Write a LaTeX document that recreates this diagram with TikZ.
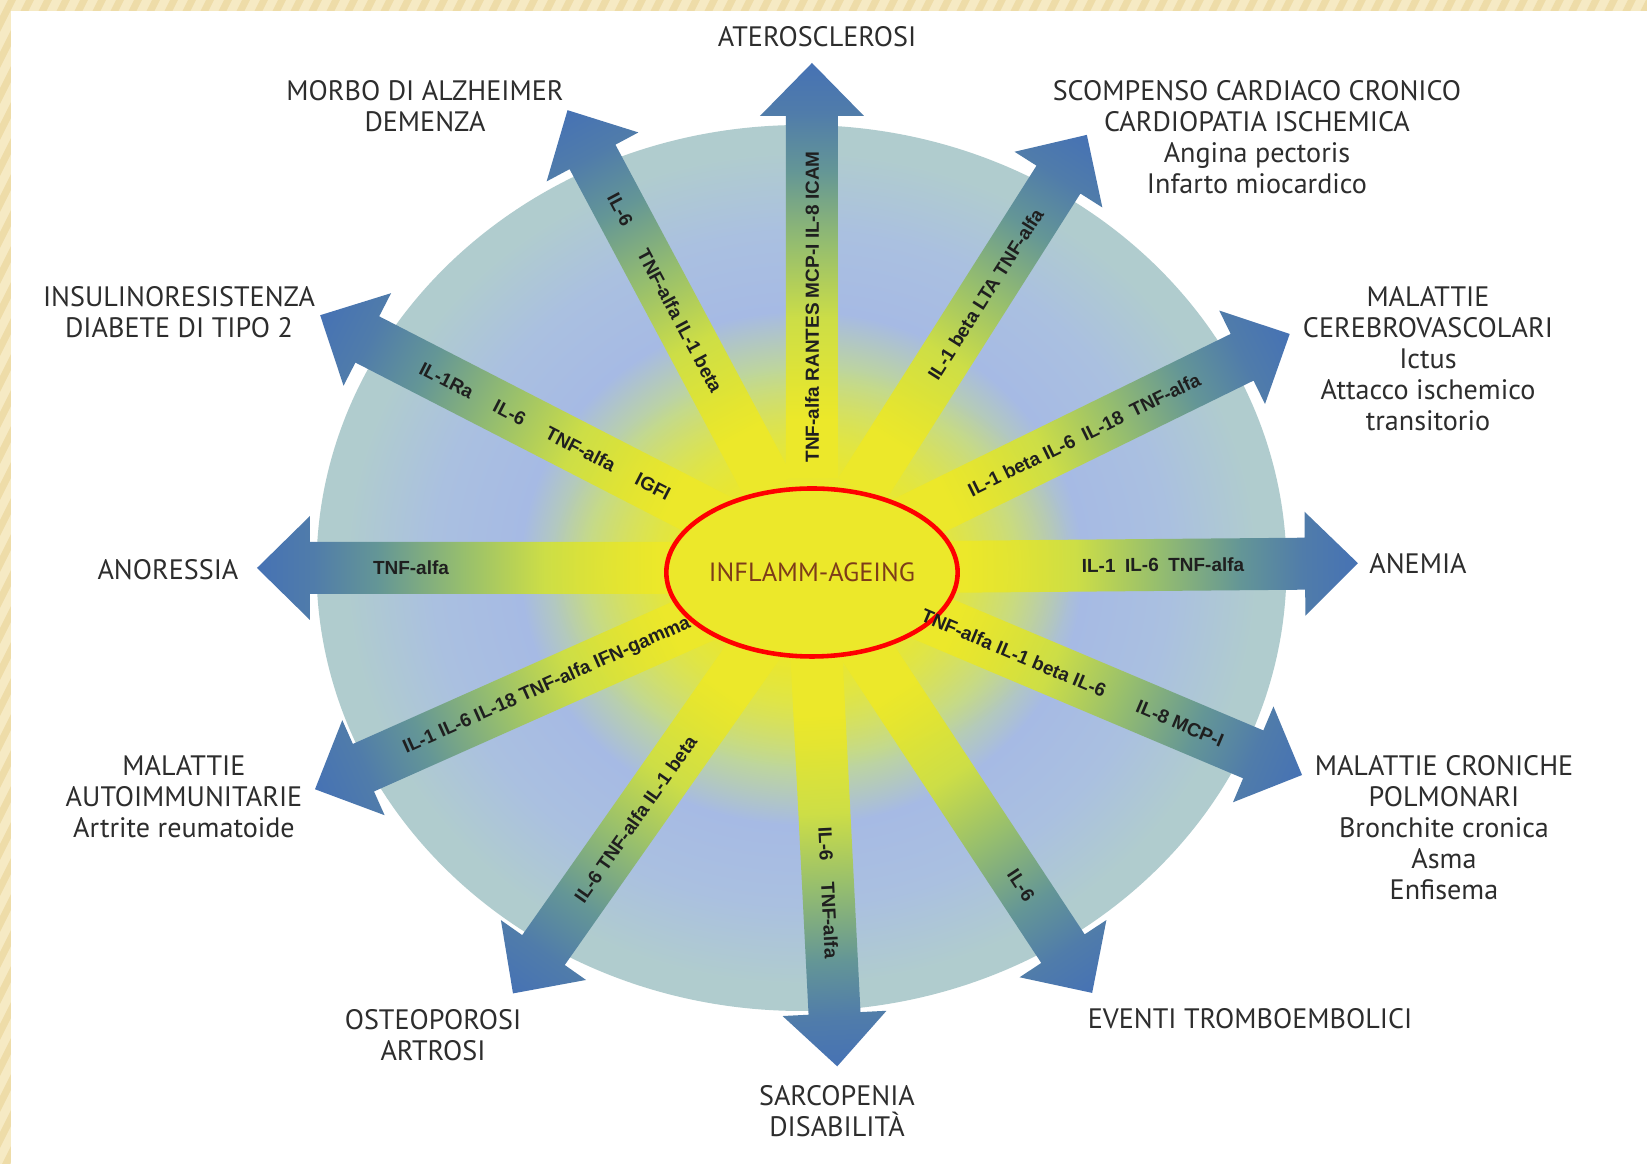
\documentclass[tikz,border=0pt]{standalone}
\usepackage{fontspec}
\setmainfont{PT Sans}
\newfontfamily\spokefont{Liberation Sans}
\usetikzlibrary{fadings,shapes.geometric}

\definecolor{coreyellow}{RGB}{236,232,42}
\definecolor{haloA}{RGB}{218,228,84}
\definecolor{haloB}{RGB}{192,216,150}
\definecolor{haloC}{RGB}{166,186,228}
\definecolor{haloD}{RGB}{170,192,224}
\definecolor{haloE}{RGB}{176,204,206}
\definecolor{spokeA}{RGB}{205,222,70}
\definecolor{spokeB}{RGB}{150,190,110}
\definecolor{spokeC}{RGB}{100,150,150}
\definecolor{spokeD}{RGB}{80,124,170}
\definecolor{spokeblue}{RGB}{70,114,180}
\definecolor{labelgray}{RGB}{45,45,45}
\definecolor{coretext}{RGB}{125,60,25}
\definecolor{frameA}{RGB}{246,234,196}
\definecolor{frameB}{RGB}{238,220,168}

\pgfdeclareradialshading{halo}{\pgfpoint{0bp}{0bp}}{color(0bp)=(coreyellow); color(4.5bp)=(coreyellow); color(7.5bp)=(haloA); color(11bp)=(haloB); color(14.5bp)=(haloC); color(19bp)=(haloD); color(23.5bp)=(haloE); color(50bp)=(haloE)}
\pgfdeclarehorizontalshading{spoke}{100bp}{color(0bp)=(coreyellow); color(25bp)=(coreyellow); color(32bp)=(coreyellow); color(44bp)=(spokeA); color(53bp)=(spokeB); color(62bp)=(spokeC); color(69bp)=(spokeD); color(75bp)=(spokeblue); color(100bp)=(spokeblue)}
\tikzfading[name=glow, inner color=transparent!0, outer color=transparent!100]

\tikzset{
  lbl/.style={align=center, text=labelgray, inner sep=0pt, font=\fontsize{8}{8.8}\selectfont},
  spoketext/.style={inner sep=0pt, text=black!88, font=\spokefont\bfseries\fontsize{5.4}{5.4}\selectfont}
}

\begin{document}
\begin{tikzpicture}
    \useasboundingbox (-8.12,-5.96) rectangle (8.35,5.68);
    \fill[white] (-8.12,-5.96) rectangle (8.35,5.68);
    % striped frame on the left and top
    \begin{scope}
      \clip (-8.12,-5.96) rectangle (-8.01,5.68) (-8.12,5.57) rectangle (8.35,5.68);
      \fill[frameA] (-8.12,-5.96) rectangle (8.35,5.68);
      \foreach \s in {-14.2,-14.02,...,2.8}
        \draw[frameB, line width=2pt] (\s,-6) -- ++(5.85,11.7);
    \end{scope}

    \shade[shading=halo] (-0.105,0) ellipse (4.85 and 4.43);

    \foreach \ang/\len in {90/5.05, 118.1/5.19, 57.6/5.13, 26.1/5.32, 0.5/5.46, -22.9/5.32,
                           -56.6/5.09, -87.1/4.99, 234.9/5.20, 204/5.44, 180/5.55, 152.8/5.53}
    {
      \begin{scope}[transform canvas={rotate=\ang}]
        \shade[shading=spoke] (0.9,-0.26) -- ({\len-0.53},-0.26) -- ({\len-0.53},-0.52) -- (\len,0)
          -- ({\len-0.53},0.52) -- ({\len-0.53},0.26) -- (0.9,0.26) -- cycle;
      \end{scope}
    }

    \fill[coreyellow, path fading=glow] (0,0) ellipse (2.6 and 2.0);

    \node[ellipse, draw=red, line width=1.3pt, fill=coreyellow, minimum width=2.88cm, minimum height=1.68cm,
          inner sep=0pt, text=coretext, font=\fontsize{7.5}{8}\selectfont] (core) at (0,-0.045) {INFLAMM-AGEING};

    \foreach \ang/\rad/\txt/\flip [count=\k] in {
        90/2.61/{TNF-alfa RANTES MCP-I IL-8 ICAM}/0,
        118.1/3.12/{IL-6\hspace{0.3cm}TNF-alfa IL-1 beta}/180,
        57.6/3.24/{IL-1 beta LTA TNF-alfa}/0,
        26.1/3.03/{IL-1 beta IL-6\enspace IL-18\enspace TNF-alfa}/0,
        0.5/3.51/{IL-1\enspace IL-6\enspace TNF-alfa}/0,
        -22.9/2.83/{TNF-alfa IL-1 beta IL-6\hspace{0.35cm}IL-8 MCP-I}/0,
        -56.6/3.80/{IL-6}/0,
        -87.1/3.25/{IL-6\hspace{0.22cm}TNF-alfa}/0,
        234.9/3.07/{IL-6 TNF-alfa IL-1 beta}/180,
        204/2.90/{IL-1 IL-6 IL-18 TNF-alfa IFN-gamma}/180,
        180/4.01/{TNF-alfa}/180,
        152.8/3.00/{IL-1Ra\hspace{0.25cm}IL-6\hspace{0.25cm}TNF-alfa\hspace{0.25cm}IGFI}/180}
      \node[spoketext, rotate=\ang+\flip] (spoke\k) at (\ang:\rad) {\txt};

    \node[lbl] (ath) at (0.05,5.31) {ATEROSCLEROSI};
    \node[lbl] (alz) at (-3.87,4.62) {MORBO DI ALZHEIMER\\DEMENZA};
    \node[lbl] (scomp) at (4.45,4.305) {SCOMPENSO CARDIACO CRONICO\\CARDIOPATIA ISCHEMICA\\Angina pectoris\\Infarto miocardico};
    \node[lbl] (insul) at (-6.33,2.555) {INSULINORESISTENZA\\DIABETE DI TIPO 2};
    \node[lbl] (cereb) at (6.16,2.09) {MALATTIE\\CEREBROVASCOLARI\\Ictus\\Attacco ischemico\\transitorio};
    \node[lbl] (anor) at (-6.44,-0.02) {ANORESSIA};
    \node[lbl] (anem) at (6.06,0.04) {ANEMIA};
    \node[lbl] (autoimm) at (-6.28,-2.29) {MALATTIE\\AUTOIMMUNITARIE\\Artrite reumatoide};
    \node[lbl] (polm) at (6.32,-2.60) {MALATTIE CRONICHE\\POLMONARI\\Bronchite cronica\\Asma\\Enfisema};
    \node[lbl] (osteo) at (-3.79,-4.67) {OSTEOPOROSI\\ARTROSI};
    \node[lbl] (trombo) at (4.38,-4.51) {EVENTI TROMBOEMBOLICI};
    \node[lbl] (sarco) at (0.25,-5.43) {SARCOPENIA\\DISABILITÀ};
\end{tikzpicture}
\end{document}
